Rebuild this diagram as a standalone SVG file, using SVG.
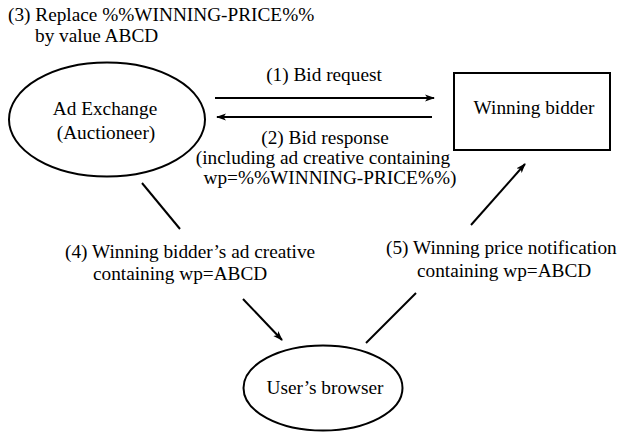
<svg xmlns="http://www.w3.org/2000/svg" width="623" height="434" viewBox="0 0 623 434" font-family="'Liberation Serif', 'Times New Roman', Times, serif">
<defs>
<style>
text{font-family:'Liberation Serif', 'Times New Roman', Times, serif;font-size:19.3px;fill:#000}
.m{text-anchor:middle}
.shape{fill:#fff;stroke:#000;stroke-width:2}
.conn{stroke:#000;stroke-width:2;fill:none}
</style>
<marker id="ah" viewBox="0 0 10 8" refX="9" refY="4" markerWidth="10" markerHeight="8" markerUnits="userSpaceOnUse" orient="auto">
<path d="M0,0.5 L10,4 L0,7.5 L2.5,4 z" fill="#000"/>
</marker>
</defs>
<rect width="623" height="434" fill="#fff"/>
<g id="note3">
<text x="8" y="21">(3) Replace %%WINNING-PRICE%%</text>
<text x="35" y="42">by value ABCD</text>
</g>
<g id="connectors">
<line class="conn" x1="215" y1="98" x2="434" y2="98" marker-end="url(#ah)"/>
<line class="conn" x1="432" y1="117" x2="217" y2="117" marker-end="url(#ah)"/>
<line class="conn" x1="142" y1="183" x2="180" y2="229"/>
<line class="conn" x1="243" y1="299" x2="282" y2="340" marker-end="url(#ah)"/>
<line class="conn" x1="366" y1="343" x2="416" y2="293"/>
<line class="conn" x1="471" y1="225" x2="525" y2="164" marker-end="url(#ah)"/>
<text class="m" x="324" y="81">(1) Bid request</text>
<text class="m" x="325" y="144">(2) Bid response</text>
<text class="m" x="323" y="164">(including ad creative containing</text>
<text class="m" x="330" y="184">wp=%%WINNING-PRICE%%)</text>
<text x="65" y="258">(4) Winning bidder’s ad creative</text>
<text x="93" y="280">containing wp=ABCD</text>
<text x="386" y="254">(5) Winning price notification</text>
<text x="417" y="277">containing wp=ABCD</text>
</g>
<g id="adexchange">
<ellipse class="shape" cx="107" cy="119.5" rx="98" ry="57"/>
<text class="m" x="105" y="115">Ad Exchange</text>
<text class="m" x="106" y="139">(Auctioneer)</text>
</g>
<g id="winningbidder">
<rect class="shape" x="454" y="73" width="156" height="77"/>
<text class="m" x="534" y="114">Winning bidder</text>
</g>
<g id="browser">
<ellipse class="shape" cx="323" cy="388" rx="79.5" ry="42.5"/>
<text class="m" x="325" y="394">User’s browser</text>
</g>
</svg>
